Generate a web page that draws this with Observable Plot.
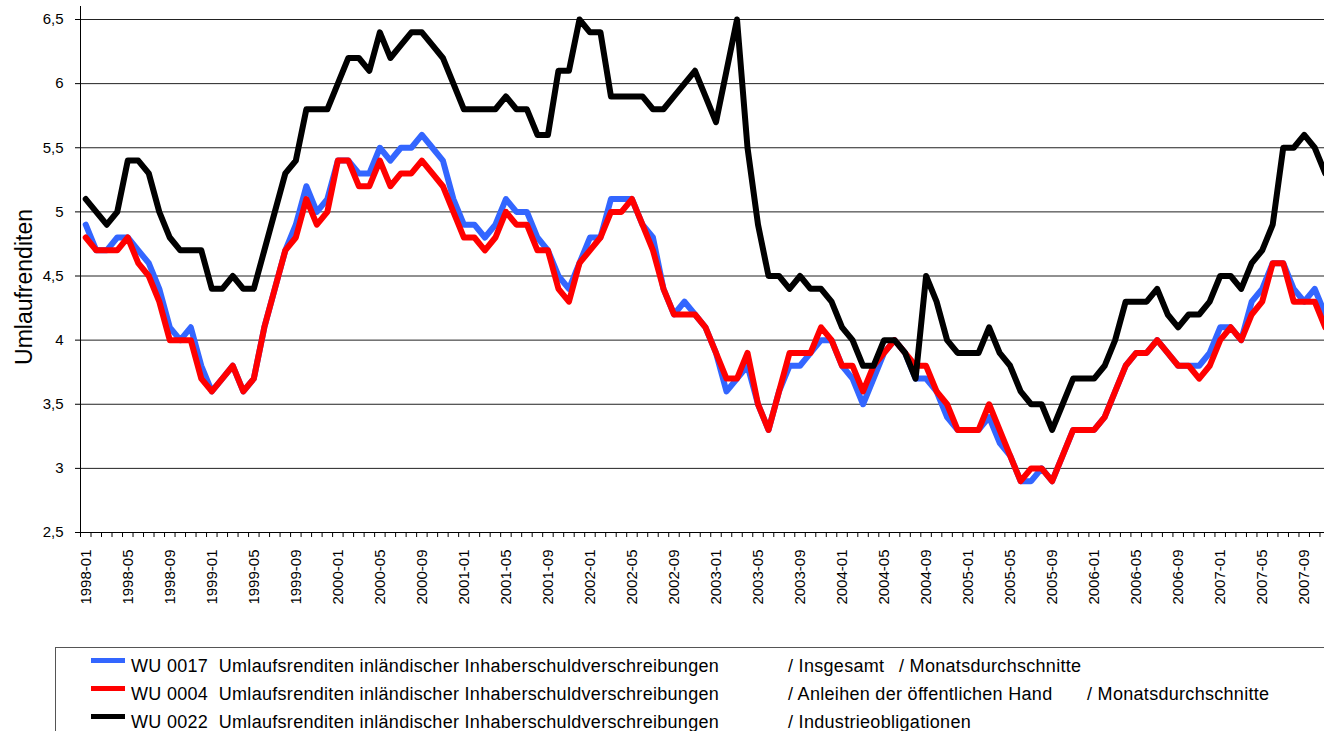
<!DOCTYPE html>
<html><head><meta charset="utf-8">
<script src="https://cdn.jsdelivr.net/npm/d3@7"></script>
<script src="https://cdn.jsdelivr.net/npm/@observablehq/plot@0.6"></script>
<style>
html,body{margin:0;padding:0;background:#fff;overflow:hidden;width:1324px;height:731px;}
#chart{position:absolute;left:0;top:0;}
#legend{position:absolute;left:55px;top:647px;width:1300px;height:120px;border:1px solid #555;box-sizing:border-box;font-family:"Liberation Sans",Arial,sans-serif;font-size:18px;letter-spacing:0.3px;color:#000;}
.sw{position:absolute;width:34px;height:5px;}
.t{position:absolute;white-space:pre;line-height:1;}
</style></head><body>
<div id="chart"></div><div id="legend"></div>
<script>
// Categories: monthly, 1998-01 .. 2007-11
const firstYear = 1998;
const monthCount = 119;
const months = d3.range(monthCount).map(i => `${firstYear + Math.floor(i / 12)}-${String(i % 12 + 1).padStart(2, "0")}`);

const tickLabels = ["1998-01","1998-05","1998-09","1999-01","1999-05","1999-09","2000-01","2000-05","2000-09",
  "2001-01","2001-05","2001-09","2002-01","2002-05","2002-09","2003-01","2003-05","2003-09",
  "2004-01","2004-05","2004-09","2005-01","2005-05","2005-09","2006-01","2006-05","2006-09",
  "2007-01","2007-05","2007-09"];

const yTicks = [2.5, 3, 3.5, 4, 4.5, 5, 5.5, 6, 6.5];

// WU 0017 Insgesamt (blue)
const insgesamt = [
  4.9,4.7,4.7,4.8,4.8,4.7,4.6,4.4,4.1,4.0,
  4.1,3.8,3.6,3.7,3.8,3.6,3.7,4.1,4.4,4.7,
  4.9,5.2,5.0,5.1,5.4,5.4,5.3,5.3,5.5,5.4,
  5.5,5.5,5.6,5.5,5.4,5.1,4.9,4.9,4.8,4.9,
  5.1,5.0,5.0,4.8,4.7,4.5,4.4,4.6,4.8,4.8,
  5.1,5.1,5.1,4.9,4.8,4.4,4.2,4.3,4.2,4.1,
  3.9,3.6,3.7,3.8,3.5,3.3,3.6,3.8,3.8,3.9,
  4.0,4.0,3.8,3.7,3.5,3.7,3.9,4.0,3.9,3.7,
  3.7,3.6,3.4,3.3,3.3,3.3,3.4,3.2,3.1,2.9,
  2.9,3.0,2.9,3.1,3.3,3.3,3.3,3.4,3.6,3.8,
  3.9,3.9,4.0,3.9,3.8,3.8,3.8,3.9,4.1,4.1,
  4.0,4.3,4.4,4.6,4.6,4.4,4.3,4.4,4.2];

// WU 0004 Anleihen der öffentlichen Hand (red)
const oeffentlich = [
  4.8,4.7,4.7,4.7,4.8,4.6,4.5,4.3,4.0,4.0,
  4.0,3.7,3.6,3.7,3.8,3.6,3.7,4.1,4.4,4.7,
  4.8,5.1,4.9,5.0,5.4,5.4,5.2,5.2,5.4,5.2,
  5.3,5.3,5.4,5.3,5.2,5.0,4.8,4.8,4.7,4.8,
  5.0,4.9,4.9,4.7,4.7,4.4,4.3,4.6,4.7,4.8,
  5.0,5.0,5.1,4.9,4.7,4.4,4.2,4.2,4.2,4.1,
  3.9,3.7,3.7,3.9,3.5,3.3,3.6,3.9,3.9,3.9,
  4.1,4.0,3.8,3.8,3.6,3.8,3.9,4.0,3.9,3.8,
  3.8,3.6,3.5,3.3,3.3,3.3,3.5,3.3,3.1,2.9,
  3.0,3.0,2.9,3.1,3.3,3.3,3.3,3.4,3.6,3.8,
  3.9,3.9,4.0,3.9,3.8,3.8,3.7,3.8,4.0,4.1,
  4.0,4.2,4.3,4.6,4.6,4.3,4.3,4.3,4.1];

// WU 0022 Industrieobligationen (black)
const industrie = [
  5.1,5.0,4.9,5.0,5.4,5.4,5.3,5.0,4.8,4.7,
  4.7,4.7,4.4,4.4,4.5,4.4,4.4,4.7,5.0,5.3,
  5.4,5.8,5.8,5.8,6.0,6.2,6.2,6.1,6.4,6.2,
  6.3,6.4,6.4,6.3,6.2,6.0,5.8,5.8,5.8,5.8,
  5.9,5.8,5.8,5.6,5.6,6.1,6.1,6.5,6.4,6.4,
  5.9,5.9,5.9,5.9,5.8,5.8,5.9,6.0,6.1,5.9,
  5.7,6.1,6.5,5.5,4.9,4.5,4.5,4.4,4.5,4.4,
  4.4,4.3,4.1,4.0,3.8,3.8,4.0,4.0,3.9,3.7,
  4.5,4.3,4.0,3.9,3.9,3.9,4.1,3.9,3.8,3.6,
  3.5,3.5,3.3,3.5,3.7,3.7,3.7,3.8,4.0,4.3,
  4.3,4.3,4.4,4.2,4.1,4.2,4.2,4.3,4.5,4.5,
  4.4,4.6,4.7,4.9,5.5,5.5,5.6,5.5,5.3];

const seriesColors = ["#3366ff", "#ff0000", "#000000"];
const legendCodes = ["WU 0017  Umlaufsrenditen inländischer Inhaberschuldverschreibungen",
                     "WU 0004  Umlaufsrenditen inländischer Inhaberschuldverschreibungen",
                     "WU 0022  Umlaufsrenditen inländischer Inhaberschuldverschreibungen"];
const legendParts2 = ["/ Insgesamt", "/ Anleihen der öffentlichen Hand", "/ Industrieobligationen"];
const legendParts3 = ["/ Monatsdurchschnitte", "/ Monatsdurchschnitte", ""];
const yTitle = "Umlaufrenditen";

const W = 1324, H = 610, axisY0 = 532;
const boundaries = d3.range(monthCount + 1).map(k => k - 0.5);
const lineStyle = {x: (d, i) => i, y: d => d, strokeWidth: 6, strokeLinejoin: "round", strokeLinecap: "round"};

const chart = Plot.plot({
  width: W, height: H,
  marginLeft: 80, marginRight: 0, marginTop: 19, marginBottom: H - axisY0,
  x: {type: "linear", domain: [-0.5, 117.93], axis: null},
  y: {domain: [2.5, 6.5], axis: null},
  style: {fontFamily: "'Liberation Sans', Arial, sans-serif", background: "#fff", overflow: "visible", color: "#000"},
  marks: [
    Plot.ruleY(yTicks.slice(1), {stroke: "#222", strokeWidth: 1}),
    Plot.axisY(yTicks, {tickSize: 5, tickPadding: 12, fontSize: 15, label: null,
      tickFormat: d => String(d).replace(".", ",")}),
    Plot.ruleY([2.5], {stroke: "#000", insetLeft: -5}),
    Plot.ruleX([-0.5], {y1: 6.5, y2: 2.5, insetTop: -13, stroke: "#000"}),
    Plot.ruleX(boundaries.filter(b => b <= 117.93), {x: d => d, y1: 2.5, y2: 2.5, insetBottom: -5, stroke: "#000"}),
    Plot.text(tickLabels, {x: d => months.indexOf(d), y: 2.5, text: d => d, rotate: -90,
      textAnchor: "end", lineAnchor: "middle", dy: 17, fontSize: 15, fill: "#000"}),
    Plot.text([yTitle], {frameAnchor: "left", text: d => d, rotate: -90, textAnchor: "middle",
      lineAnchor: "middle", dx: -56, dy: 11, fontSize: 23, fill: "#000"}),
    Plot.line(insgesamt, {...lineStyle, stroke: seriesColors[0]}),
    Plot.line(oeffentlich, {...lineStyle, stroke: seriesColors[1]}),
    Plot.line(industrie, {...lineStyle, stroke: seriesColors[2]})
  ]
});
document.getElementById("chart").appendChild(chart);

// Legend
const legend = document.getElementById("legend");
const rowTops = [8.5, 36.5, 64.5];
legendCodes.forEach((code, k) => {
  const sw = document.createElement("div");
  sw.className = "sw";
  sw.style.left = "35px";
  sw.style.top = (rowTops[k] + 1.7) + "px";
  sw.style.background = seriesColors[k];
  legend.appendChild(sw);
  const add = (txt, left) => {
    if (!txt) return;
    const s = document.createElement("div");
    s.className = "t";
    s.style.left = left + "px";
    s.style.top = rowTops[k] + "px";
    s.textContent = txt;
    legend.appendChild(s);
  };
  add(code, 75);
  add(legendParts2[k], 732);
  add(legendParts3[k], k === 0 ? 843 : 1031);
});
</script>
</body></html>
